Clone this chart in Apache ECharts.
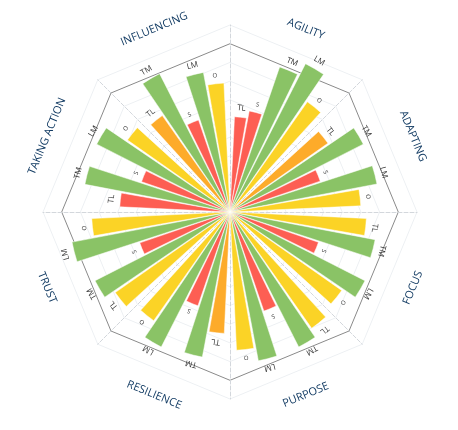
<!DOCTYPE html>
<html><head><meta charset="utf-8">
<script src="https://cdn.jsdelivr.net/npm/echarts@6/dist/echarts.min.js"></script>
<style>html,body{margin:0;padding:0;background:#fff}#c{width:458px;height:430px}</style>
</head><body><div id="c"></div>
<script>
const categories = ['AGILITY','ADAPTING','FOCUS','PURPOSE','RESILIENCE','TRUST','TAKING ACTION','INFLUENCING'];
// five bars per category, clockwise order; value, label, colour key
const values = [
  [51,55,82,89,72],
  [64,80,51,80,70],
  [73,79,50,81,73],
  [76,81,56,81,74],
  [65,79,53,81,71],
  [75,81,51,86,74],
  [59,79,50,80,67],
  [63,83,52,76,69]
];
const barLabels = [
  ['TL','S','TM','LM','O'],
  ['TL','TM','S','LM','O'],
  ['TL','TM','S','LM','O'],
  ['TL','TM','S','LM','O'],
  ['TL','TM','S','LM','O'],
  ['TL','TM','S','LM','O'],
  ['TL','TM','S','LM','O'],
  ['TL','TM','S','LM','O']
];
const barColors = [
  ['r','r','g','g','y'],
  ['o','g','r','g','y'],
  ['y','g','r','g','y'],
  ['y','g','r','g','y'],
  ['o','g','r','g','y'],
  ['y','g','r','g','y'],
  ['r','g','r','g','y'],
  ['o','g','r','g','y']
];
const palette = {r:'#fd5e53', o:'#fdab2a', g:'#8ac366', y:'#fbd326'};
const CX = 230, CY = 212, R = 187;

const series = [];
for (let k = 0; k < 5; k++) {
  series.push({
    type: 'bar', coordinateSystem: 'polar', barGap: '12%', barCategoryGap: '12%',
    itemStyle: {borderColor: '#fff', borderWidth: 0.5},
    data: categories.map((c, i) => ({
      value: values[i][k],
      itemStyle: {color: palette[barColors[i][k]]},
      label: {show: true, position: 'end', rotate: 'tangential', formatter: barLabels[i][k],
              fontSize: barLabels[i][k].length > 1 ? 8 : 6, color: '#333', fontFamily: 'Open Sans'}
    }))
  });
}

const graphic = categories.map((c, i) => {
  const th = 22.5 + i * 45;
  const rad = th * Math.PI / 180;
  const rr = 198;
  const x = CX + rr * Math.sin(rad), y = CY - rr * Math.cos(rad);
  let rot = (th > 90 && th < 270) ? th - 180 : th;
  return {type: 'text', x: x, y: y, rotation: -rot * Math.PI / 180,
    style: {text: c, fill: '#123b63', font: '11px "Open Sans"', align: 'center', verticalAlign: 'middle'}};
});

const ringColors = ['#edf0f3','#edf0f3','#edf0f3','#edf0f3','#edf0f3','#edf0f3','#edf0f3','#edf0f3','#edf0f3','#8a8a8a'];
const chart = echarts.init(document.getElementById('c'));
chart.setOption({
  animation: false,
  radar: {
    center: [CX, CY], radius: R, startAngle: 90, shape: 'polygon', splitNumber: 10,
    indicator: categories.map(() => ({name: '', max: 100})),
    axisName: {show: false},
    splitArea: {show: false},
    splitLine: {lineStyle: {color: ringColors, width: 1}},
    axisLine: {lineStyle: {color: '#d3d7dc', type: 'dashed'}}
  },
  polar: {center: [CX, CY], radius: [0, R]},
  angleAxis: {type: 'category', data: categories, startAngle: 90, clockwise: true,
    axisLine: {show: false}, axisTick: {show: false}, axisLabel: {show: false}, splitLine: {show: false}},
  radiusAxis: {min: 0, max: 100, axisLine: {show: false}, axisTick: {show: false}, axisLabel: {show: false}, splitLine: {show: false}},
  series: series,
  graphic: graphic
});
</script></body></html>
